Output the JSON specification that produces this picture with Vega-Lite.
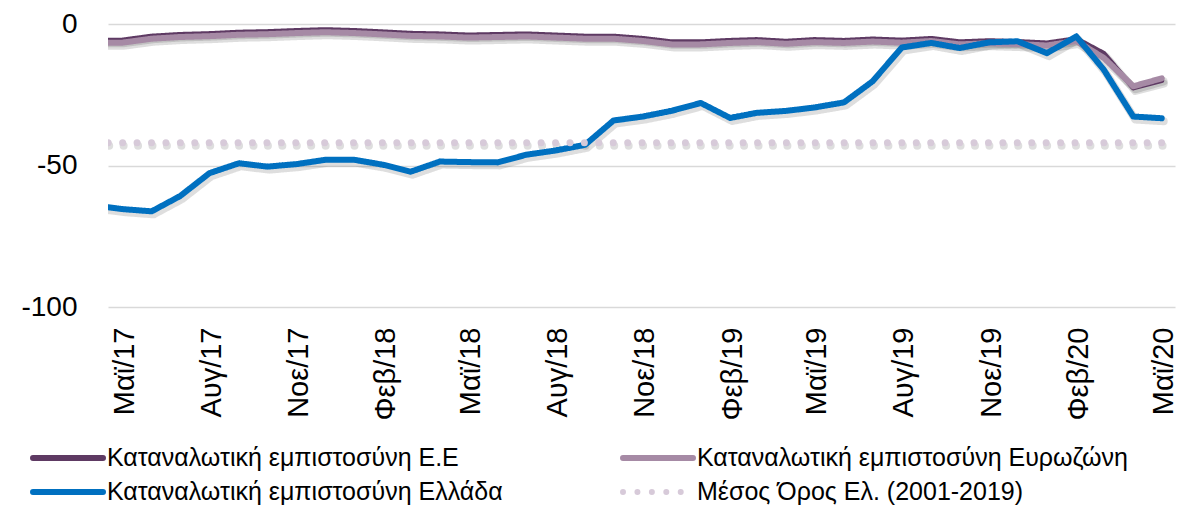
{
  "$schema": "https://vega.github.io/schema/vega-lite/v6.json",
  "autosize": {"type": "none"},
  "width": 1067,
  "height": 283,
  "padding": {"left": 108, "top": 24, "right": 29, "bottom": 205},
  "background": "white",
  "config": {
    "view": {"stroke": null},
    "font": "Liberation Sans",
    "axis": {"labelFont": "Liberation Sans", "labelColor": "#000000"},
    "legend": {"labelFont": "Liberation Sans", "labelColor": "#000000"}
  },
  "data": {
    "values": [
      {"d": "2017-04-01", "EU": -5.8, "EZ": -6.7, "GR": -64.1, "AVG": -42},
      {"d": "2017-05-01", "EU": -5.7, "EZ": -6.6, "GR": -65.4, "AVG": -42},
      {"d": "2017-06-01", "EU": -4.3, "EZ": -5.2, "GR": -66.2, "AVG": -42},
      {"d": "2017-07-01", "EU": -3.7, "EZ": -4.6, "GR": -60.8, "AVG": -42},
      {"d": "2017-08-01", "EU": -3.4, "EZ": -4.3, "GR": -52.7, "AVG": -42},
      {"d": "2017-09-01", "EU": -2.9, "EZ": -3.8, "GR": -49.2, "AVG": -42},
      {"d": "2017-10-01", "EU": -2.7, "EZ": -3.6, "GR": -50.4, "AVG": -42},
      {"d": "2017-11-01", "EU": -2.3, "EZ": -3.2, "GR": -49.5, "AVG": -42},
      {"d": "2017-12-01", "EU": -2.0, "EZ": -2.9, "GR": -48.0, "AVG": -42},
      {"d": "2018-01-01", "EU": -2.3, "EZ": -3.2, "GR": -48.0, "AVG": -42},
      {"d": "2018-02-01", "EU": -2.8, "EZ": -3.7, "GR": -49.8, "AVG": -42},
      {"d": "2018-03-01", "EU": -3.3, "EZ": -4.2, "GR": -52.2, "AVG": -42},
      {"d": "2018-04-01", "EU": -3.5, "EZ": -4.4, "GR": -48.6, "AVG": -42},
      {"d": "2018-05-01", "EU": -3.9, "EZ": -4.8, "GR": -48.8, "AVG": -42},
      {"d": "2018-06-01", "EU": -3.7, "EZ": -4.6, "GR": -48.9, "AVG": -42},
      {"d": "2018-07-01", "EU": -3.5, "EZ": -4.4, "GR": -46.2, "AVG": -42},
      {"d": "2018-08-01", "EU": -3.9, "EZ": -4.8, "GR": -44.7, "AVG": -42},
      {"d": "2018-09-01", "EU": -4.3, "EZ": -5.2, "GR": -42.7, "AVG": -42},
      {"d": "2018-10-01", "EU": -4.3, "EZ": -5.2, "GR": -34.1, "AVG": -42},
      {"d": "2018-11-01", "EU": -5.1, "EZ": -6.0, "GR": -32.7, "AVG": -42},
      {"d": "2018-12-01", "EU": -6.3, "EZ": -7.2, "GR": -30.7, "AVG": -42},
      {"d": "2019-01-01", "EU": -6.3, "EZ": -7.2, "GR": -27.9, "AVG": -42},
      {"d": "2019-02-01", "EU": -5.8, "EZ": -6.7, "GR": -33.2, "AVG": -42},
      {"d": "2019-03-01", "EU": -5.5, "EZ": -6.4, "GR": -31.4, "AVG": -42},
      {"d": "2019-04-01", "EU": -6.1, "EZ": -7.0, "GR": -30.7, "AVG": -42},
      {"d": "2019-05-01", "EU": -5.5, "EZ": -6.4, "GR": -29.5, "AVG": -42},
      {"d": "2019-06-01", "EU": -5.8, "EZ": -6.7, "GR": -27.7, "AVG": -42},
      {"d": "2019-07-01", "EU": -5.3, "EZ": -6.2, "GR": -20.3, "AVG": -42},
      {"d": "2019-08-01", "EU": -5.7, "EZ": -6.6, "GR": -8.3, "AVG": -42},
      {"d": "2019-09-01", "EU": -5.1, "EZ": -6.0, "GR": -6.7, "AVG": -42},
      {"d": "2019-10-01", "EU": -6.3, "EZ": -7.2, "GR": -8.5, "AVG": -42},
      {"d": "2019-11-01", "EU": -5.9, "EZ": -6.8, "GR": -6.5, "AVG": -42},
      {"d": "2019-12-01", "EU": -6.2, "EZ": -7.1, "GR": -6.1, "AVG": -42},
      {"d": "2020-01-01", "EU": -6.7, "EZ": -7.6, "GR": -10.3, "AVG": -42},
      {"d": "2020-02-01", "EU": -5.2, "EZ": -6.0, "GR": -4.4, "AVG": -42},
      {"d": "2020-03-01", "EU": -10.4, "EZ": -12.0, "GR": -16.2, "AVG": -42},
      {"d": "2020-04-01", "EU": -22.6, "EZ": -22.0, "GR": -32.7, "AVG": -42},
      {"d": "2020-05-01", "EU": -20.0, "EZ": -19.2, "GR": -33.3, "AVG": -42}
    ]
  },
  "transform": [{"fold": ["EU", "EZ", "GR", "AVG"], "as": ["s", "v"]}],
  "encoding": {
    "x": {
      "field": "d",
      "type": "temporal",
      "scale": {
        "type": "utc",
        "domain": [
          {"year": 2017, "month": 4, "date": 16, "utc": true},
          {"year": 2020, "month": 5, "date": 15, "utc": true}
        ]
      },
      "axis": {
        "title": null,
        "grid": false,
        "domain": false,
        "ticks": false,
        "labelAngle": 270,
        "labelFontSize": 29,
        "labelPadding": 20,
        "labelOverlap": false,
        "labelOffset": 2,
        "values": [
          {"year": 2017, "month": 5, "date": 1, "utc": true},
          {"year": 2017, "month": 8, "date": 1, "utc": true},
          {"year": 2017, "month": 11, "date": 1, "utc": true},
          {"year": 2018, "month": 2, "date": 1, "utc": true},
          {"year": 2018, "month": 5, "date": 1, "utc": true},
          {"year": 2018, "month": 8, "date": 1, "utc": true},
          {"year": 2018, "month": 11, "date": 1, "utc": true},
          {"year": 2019, "month": 2, "date": 1, "utc": true},
          {"year": 2019, "month": 5, "date": 1, "utc": true},
          {"year": 2019, "month": 8, "date": 1, "utc": true},
          {"year": 2019, "month": 11, "date": 1, "utc": true},
          {"year": 2020, "month": 2, "date": 1, "utc": true},
          {"year": 2020, "month": 5, "date": 1, "utc": true}
        ],
        "labelExpr": "['Ιαν','Φεβ','Μαρ','Απρ','Μαϊ','Ιουν','Ιουλ','Αυγ','Σεπ','Οκτ','Νοε','Δεκ'][utcmonth(datum.value)] + '/' + utcFormat(datum.value, '%y')"
      }
    },
    "y": {
      "field": "v",
      "type": "quantitative",
      "scale": {"domain": [-100, 0], "nice": false, "zero": false},
      "axis": {
        "title": null,
        "values": [0, -50, -100],
        "grid": true,
        "gridColor": "#D9D9D9",
        "gridWidth": 1.5,
        "domain": false,
        "ticks": false,
        "labelFontSize": 28,
        "labelPadding": 31,
        "labelExpr": "toString(datum.value)"
      }
    },
    "color": {"field": "s", "type": "nominal", "scale": {"domain": ["EU", "EZ", "GR", "AVG"], "range": ["#5E3A63", "#A68AA5", "#0070C0", "#D7CAD9"]},
      "legend": {
        "title": null,
        "orient": "none",
        "legendX": -78,
        "legendY": 420,
        "columns": 2,
        "direction": "horizontal",
        "gridAlign": "each",
        "columnPadding": 117,
        "rowPadding": 6,
        "clipHeight": 28,
        "padding": 0,
        "symbolType": "stroke",
        "symbolSize": 4900,
        "symbolStrokeWidth": 6,
        "labelFontSize": 25,
        "labelOffset": 1,
        "labelLimit": 800,
        "labelExpr": "{'EU':'Καταναλωτική εμπιστοσύνη Ε.Ε','EZ':'Καταναλωτική εμπιστοσύνη Ευρωζώνη','GR':'Καταναλωτική εμπιστοσύνη Ελλάδα','AVG':'\u00a0Μέσος Όρος Ελ. (2001-2019)'}[datum.value]",
        "encode": {"symbols": {"update": {"strokeCap": {"value": "round"}}}}
      }
    },
    "strokeDash": {"field": "s", "type": "nominal", "scale": {"domain": ["EU", "EZ", "GR", "AVG"], "range": [[1, 0], [1, 0], [1, 0], [0, 14.43]]}}
  },
  "layer": [
    {
      "transform": [{"filter": "datum.s !== 'AVG'"}],
      "mark": {"type": "line", "clip": true, "color": "#000000", "opacity": 0.13, "strokeWidth": 8, "xOffset": 2, "yOffset": 3, "strokeCap": "round", "strokeJoin": "round"},
      "encoding": {"color": {"value": "#000000"}, "strokeDash": {"value": [1, 0]}, "detail": {"field": "s"}}
    },
    {
      "transform": [{"filter": "datum.s === 'AVG'"}],
      "mark": {"type": "line", "clip": true, "color": "#000000", "opacity": 0.13, "strokeWidth": 8, "xOffset": 1, "yOffset": 3, "strokeCap": "round"},
      "encoding": {"color": {"value": "#000000"}, "strokeDash": {"value": [0, 14.43]}}
    },
    {
      "transform": [{"filter": "datum.s === 'EU'"}],
      "mark": {"type": "line", "clip": true, "strokeWidth": 5, "strokeCap": "round", "strokeJoin": "round"}
    },
    {
      "transform": [{"filter": "datum.s === 'EZ'"}],
      "mark": {"type": "line", "clip": true, "strokeWidth": 6, "strokeCap": "round", "strokeJoin": "round"}
    },
    {
      "transform": [{"filter": "datum.s === 'GR'"}],
      "mark": {"type": "line", "clip": true, "strokeWidth": 6, "strokeCap": "round", "strokeJoin": "round"}
    },
    {
      "transform": [{"filter": "datum.s === 'AVG'"}],
      "mark": {"type": "line", "clip": true, "strokeWidth": 7, "strokeCap": "round", "strokeJoin": "round"}
    }
  ]
}
